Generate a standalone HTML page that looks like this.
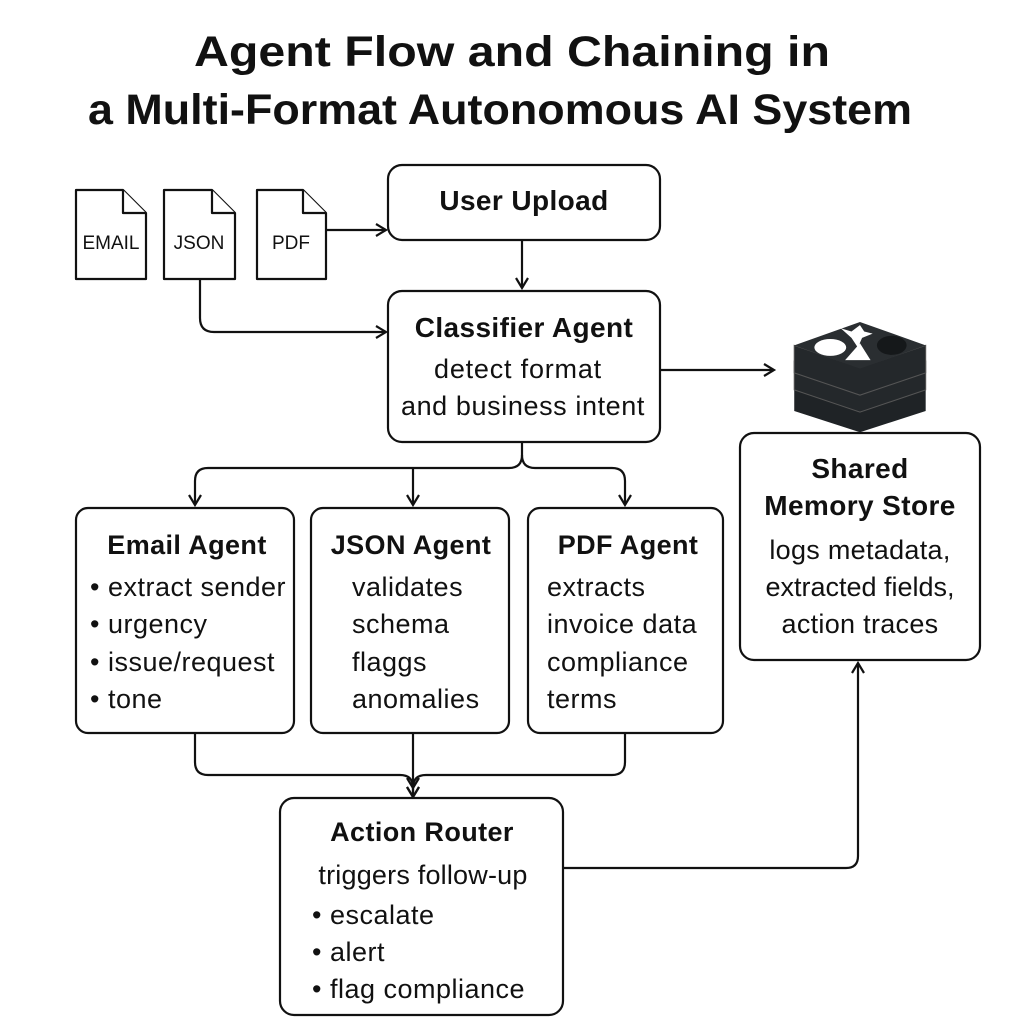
<!DOCTYPE html>
<html><head><meta charset="utf-8"><style>html,body{margin:0;padding:0;background:#fff}svg{display:block}</style></head>
<body>
<svg width="1024" height="1024" viewBox="0 0 1024 1024" xmlns="http://www.w3.org/2000/svg" font-family="Liberation Sans, sans-serif" fill="#111">
<defs><marker id="a" markerWidth="14" markerHeight="14" refX="11" refY="7" orient="auto" markerUnits="userSpaceOnUse"><path d="M1,1 L11,7 L1,13" fill="none" stroke="#111" stroke-width="2.2"/></marker></defs>
<rect width="1024" height="1024" fill="#fff"/>
<text x="512" y="66" font-size="43" text-anchor="middle" font-weight="bold" textLength="636" lengthAdjust="spacingAndGlyphs">Agent Flow and Chaining in</text>
<text x="500" y="124" font-size="43" text-anchor="middle" font-weight="bold" textLength="824" lengthAdjust="spacingAndGlyphs">a Multi-Format Autonomous AI System</text>
<g fill="#fff" stroke="#111" stroke-width="2.2" stroke-linejoin="round">
<path d="M76,190 H123 L146,213 V279 H76 Z"/><path d="M123,190 V213 H146"/>
<path d="M164,190 H212 L235,213 V279 H164 Z"/><path d="M212,190 V213 H235"/>
<path d="M257,190 H303 L326,213 V279 H257 Z"/><path d="M303,190 V213 H326"/>
<rect x="388" y="165" width="272" height="75" rx="14"/>
<rect x="388" y="291" width="272" height="151" rx="14"/>
<rect x="740" y="433" width="240" height="227" rx="14"/>
<rect x="76" y="508" width="218" height="225" rx="12"/>
<rect x="311" y="508" width="198" height="225" rx="12"/>
<rect x="528" y="508" width="195" height="225" rx="12"/>
<rect x="280" y="798" width="283" height="217" rx="14"/>
</g>
<g fill="none" stroke="#111" stroke-width="2.2" marker-end="url(#a)">
<path d="M326,230 H386"/>
<path d="M522,240 V288"/>
<path d="M200,279 V318 Q200,332 214,332 H386"/>
<path d="M660,370 H774"/>
<path d="M522,442 V455 Q522,468 509,468 H208 Q195,468 195,481 V505"/>
<path d="M522,455 Q522,468 535,468 H612 Q625,468 625,481 V505"/>
<path d="M413,468 V505"/>
<path d="M195,733 V762 Q195,775 208,775 H400 Q413,775 413,788 V797"/>
<path d="M625,733 V762 Q625,775 612,775 H426 Q413,775 413,788"/>
<path d="M413,733 V797"/>
<path d="M563,868 H846 Q858,868 858,856 V663"/>
</g>
<g font-size="19" text-anchor="middle"><text x="111" y="249">EMAIL</text><text x="199" y="249">JSON</text><text x="291" y="249">PDF</text></g>
<g transform="translate(790,322) scale(1.06)">
<path d="M4,52 L66,74 L128,52 V84 L66,104 L4,84 Z" fill="#1f2326"/>
<path d="M4,37 L66,58 L128,37 V64 L66,85 L4,64 Z" fill="#24282b" stroke="#555" stroke-width="1"/>
<path d="M4,22 L66,43 L128,22 V48 L66,69 L4,48 Z" fill="#24282b" stroke="#555" stroke-width="1"/>
<path d="M4,22 L66,0 L128,22 L66,44 Z" fill="#2a2e31"/>
<ellipse cx="38" cy="24" rx="15" ry="8" fill="#fff"/>
<path d="M52,36 L66,20 L76,36 Z" fill="#fff"/>
<path d="M48,6 L58,9 L66,3 L70,9 L78,11 L68,15 L64,24 L58,15 Z" fill="#fff"/>
<ellipse cx="96" cy="22" rx="14" ry="9" fill="#15181a"/>
</g>
<g font-size="28" text-anchor="middle" letter-spacing="0.4">
<text x="524" y="210" font-weight="bold">User Upload</text>
<text x="524" y="337" font-weight="bold">Classifier Agent</text>
<text x="518" y="378" font-size="27" letter-spacing="0.8">detect format</text>
<text x="523" y="415" font-size="27" letter-spacing="0.6">and business intent</text>
<text x="860" y="478" font-weight="bold">Shared</text>
<text x="860" y="515" font-weight="bold">Memory Store</text>
<text x="860" y="559" font-size="27" letter-spacing="0.3">logs metadata,</text>
<text x="860" y="596" font-size="27" letter-spacing="0">extracted fields,</text>
<text x="860" y="633" font-size="27" letter-spacing="0.3">action traces</text>
<text x="187" y="554" font-size="27" font-weight="bold">Email Agent</text>
<text x="411" y="554" font-size="27" font-weight="bold">JSON Agent</text>
<text x="628" y="554" font-size="27" font-weight="bold">PDF Agent</text>
<text x="422" y="841" font-size="27" font-weight="bold">Action Router</text>
<text x="423" y="884" font-size="27" letter-spacing="0.2">triggers follow-up</text>
</g>
<g font-size="27" letter-spacing="0.5">
<text x="90" y="596">• extract sender</text>
<text x="90" y="633">• urgency</text>
<text x="90" y="671">• issue/request</text>
<text x="90" y="708">• tone</text>
<text x="352" y="596">validates</text>
<text x="352" y="633">schema</text>
<text x="352" y="671">flaggs</text>
<text x="352" y="708">anomalies</text>
<text x="547" y="596">extracts</text>
<text x="547" y="633">invoice data</text>
<text x="547" y="671">compliance</text>
<text x="547" y="708">terms</text>
<text x="312" y="924">• escalate</text>
<text x="312" y="961">• alert</text>
<text x="312" y="998">• flag compliance</text>
</g>
</svg>
</body></html>
